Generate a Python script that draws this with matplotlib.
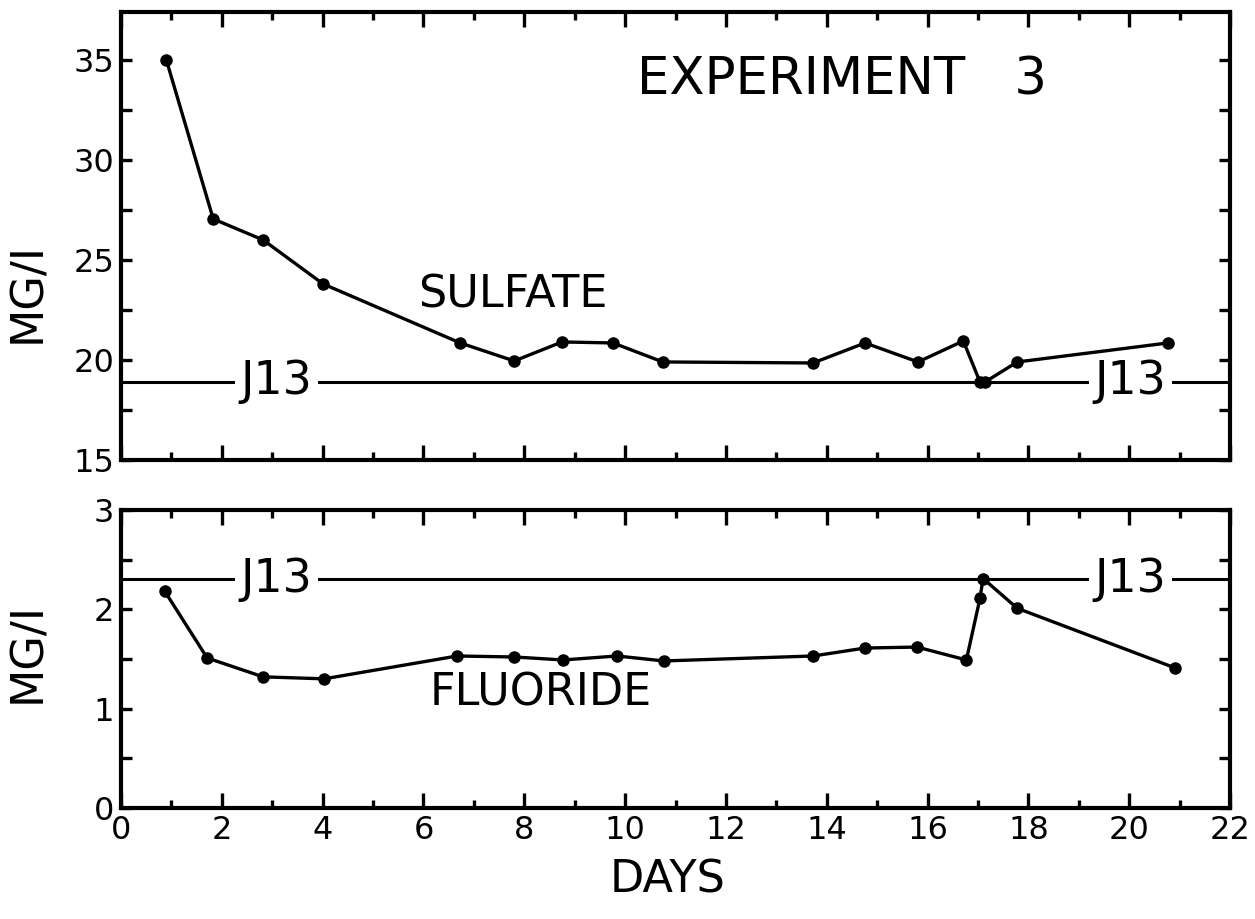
"""
plot.py

Recreates the Experiment 3 sulfate / fluoride chart.
"""

import matplotlib
matplotlib.use("Agg")
import matplotlib.pyplot as plt
from matplotlib.ticker import MultipleLocator


# sulfate (mg/l) against days
sulfate_days = [0.9, 1.83, 2.82, 4.01, 6.73, 7.8, 8.75, 9.76, 10.75,
                13.73, 14.76, 15.81, 16.71, 17.04, 17.14, 17.78, 20.77]
sulfate_mg = [35.0, 27.05, 26.0, 23.8, 20.85, 19.95, 20.9, 20.85, 19.9,
              19.85, 20.85, 19.9, 20.95, 18.9, 18.9, 19.9, 20.85]

# fluoride (mg/l) against days
fluoride_days = [0.87, 1.71, 2.82, 4.03, 6.67, 7.8, 8.77, 9.84, 10.77,
                 13.73, 14.76, 15.79, 16.77, 17.04, 17.1, 17.78, 20.91]
fluoride_mg = [2.18, 1.51, 1.32, 1.30, 1.53, 1.52, 1.49, 1.53, 1.48,
               1.53, 1.61, 1.62, 1.49, 2.11, 2.31, 2.01, 1.41]

# J13 reference levels
j13_sulfate = 18.9
j13_fluoride = 2.3

x_ticks = [0, 2, 4, 6, 8, 10, 12, 14, 16, 18, 20, 22]
sulfate_ticks = [15, 20, 25, 30, 35]
fluoride_ticks = [0, 1, 2, 3]

INK = "black"
FONT = "DejaVu Sans"


def style_axis(ax, y_major, y_minor):
    """Box frame with inward ticks on every side."""
    for side in ax.spines.values():
        side.set_linewidth(3)
    ax.set_xlim(0, 22)
    ax.xaxis.set_major_locator(MultipleLocator(2))
    ax.xaxis.set_minor_locator(MultipleLocator(1))
    ax.yaxis.set_major_locator(MultipleLocator(y_major))
    ax.yaxis.set_minor_locator(MultipleLocator(y_minor))
    ax.tick_params(axis="both", which="both", direction="in",
                   top=True, right=True, width=2.4, labelsize=23, pad=5)
    ax.tick_params(axis="x", which="major", length=11)
    ax.tick_params(axis="x", which="minor", length=6)
    ax.tick_params(axis="y", which="both", length=8)


def j13_line(ax, level):
    """Horizontal J13 line with its two labels."""
    ax.axhline(level, color=INK, linewidth=2.2, zorder=1)
    for day in (3.08, 20.02):
        ax.text(day, level, "J13", fontsize=33, ha="center", va="center",
                zorder=2,
                bbox=dict(facecolor="white", edgecolor="none", pad=4))


def main():
    plt.rcParams["font.family"] = [FONT]

    fig = plt.figure(figsize=(12.55, 9.19), dpi=100)
    ax_top = fig.add_axes([0.0964, 0.4995, 0.8837, 0.4875])
    ax_bot = fig.add_axes([0.0964, 0.1208, 0.8837, 0.3243])

    # sulfate panel
    style_axis(ax_top, 5, 2.5)
    ax_top.set_ylim(15, 37.4)
    ax_top.set_yticks(sulfate_ticks)
    ax_top.tick_params(axis="x", labelbottom=False)
    j13_line(ax_top, j13_sulfate)
    ax_top.plot(sulfate_days, sulfate_mg, color=INK, linewidth=2.4,
                marker="o", markersize=8, zorder=3)
    ax_top.text(10.24, 33.95, "EXPERIMENT   3", fontsize=37,
                ha="left", va="center")
    ax_top.text(5.89, 23.25, "SULFATE", fontsize=32, ha="left", va="center")
    ax_top.set_ylabel("MG/I", fontsize=32, va="center")
    ax_top.yaxis.set_label_coords(-0.084, 0.373)

    # fluoride panel
    style_axis(ax_bot, 1, 0.5)
    ax_bot.set_ylim(0, 3)
    ax_bot.set_yticks(fluoride_ticks)
    ax_bot.set_xticks(x_ticks)
    j13_line(ax_bot, j13_fluoride)
    ax_bot.plot(fluoride_days, fluoride_mg, color=INK, linewidth=2.4,
                marker="o", markersize=8, zorder=3)
    ax_bot.text(6.13, 1.16, "FLUORIDE", fontsize=32, ha="left", va="center")
    ax_bot.set_ylabel("MG/I", fontsize=32, va="center")
    ax_bot.yaxis.set_label_coords(-0.084, 0.523)

    fig.text(668 / 1255, 1 - 880 / 919, "DAYS", fontsize=32,
             ha="center", va="center")

    fig.savefig("out.png", dpi=100, facecolor="white")
    plt.close(fig)


if __name__ == "__main__":
    main()
